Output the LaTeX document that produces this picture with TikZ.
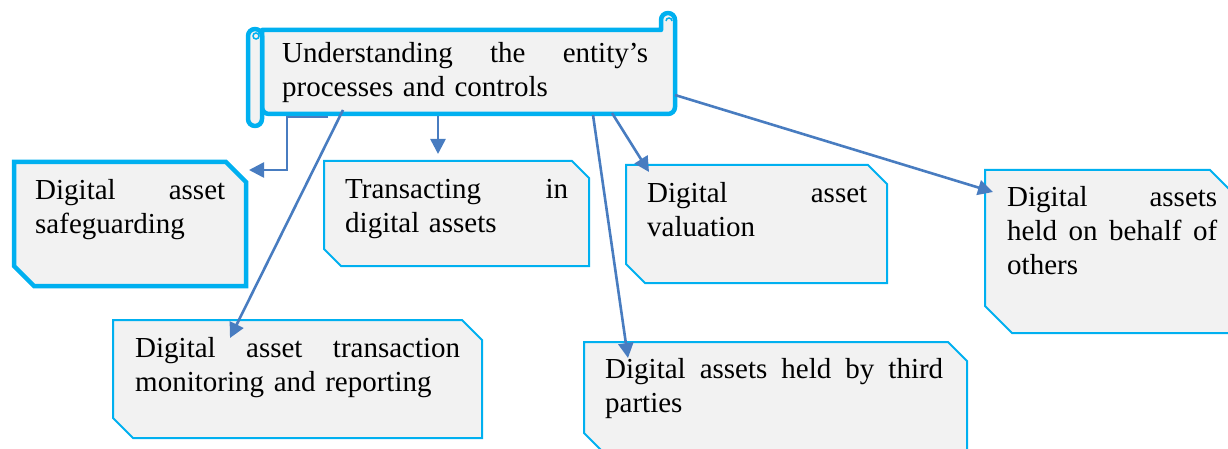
\documentclass[tikz,border=0pt]{standalone}
\usepackage{fontspec}
\setmainfont{Liberation Serif}
\usetikzlibrary{arrows.meta}
\definecolor{cyanb}{RGB}{0,176,240}
\definecolor{boxfill}{RGB}{242,242,242}
\definecolor{connblue}{RGB}{72,124,192}
\newcommand\snipoutline[3]{%
  \filldraw[#3] (#1.north west) -- ([xshift=-#2pt]#1.north east) -- ([yshift=-#2pt]#1.north east)
    -- (#1.south east) -- ([xshift=#2pt]#1.south west) -- ([yshift=#2pt]#1.south west) -- cycle;}
\begin{document}
\begin{tikzpicture}[x=1pt,y=-1pt,
  area/.style={rectangle, inner sep=0pt, outer sep=0pt, anchor=north west},
  thinbox/.style={draw=cyanb, fill=boxfill, line width=2pt, line join=miter},
  thickbox/.style={draw=cyanb, fill=boxfill, line width=4.5pt, line join=miter},
  scrollline/.style={draw=cyanb, fill=boxfill, line width=4.5pt, line join=round},
  curlmark/.style={draw=cyanb, line width=1.5pt},
  txt/.style={anchor=base west, inner sep=0pt, align=left, font=\fontsize{29}{34}\selectfont},
  conn/.style={draw=connblue, line width=2.6pt, -{Triangle[length=15pt,width=15pt]}},
]
\useasboundingbox (0,0) rectangle (1228,449);
\clip (0,0) rectangle (1228,449);

% ---- scroll ----
\node[area, minimum width=413pt, minimum height=84pt] (sc) at (262,30) {};
\filldraw[scrollline] (262,30) -- (661,30) -- (661,20) arc[start angle=180, end angle=0, radius=7pt]
  {[rounded corners=7pt] -- (675,114) -- (262,114)} -- cycle;
\draw[curlmark] (666,21) arc[start angle=180, end angle=0, radius=3pt];
\filldraw[scrollline] (248,36) arc[start angle=180, end angle=0, radius=7pt] -- (262,119)
  arc[start angle=0, end angle=-180, radius=7pt] -- cycle;
\draw[curlmark] (256,36) circle[radius=3pt];
\node[txt, text width=366pt] (sct) at (282,63) {Understanding\hfill the\hfill entity’s\\processes and controls};

% ---- boxes ----
\node[area, minimum width=232pt, minimum height=124pt] (sg) at (14,162) {};
\snipoutline{sg}{20}{thickbox}
\node[txt, text width=190pt] (sgt) at (35,200) {Digital\hfill asset\\safeguarding};

\node[area, minimum width=265pt, minimum height=105pt] (tr) at (324,161) {};
\snipoutline{tr}{17}{thinbox}
\node[txt, text width=223pt] (trt) at (345,198) {Transacting\hfill in\\digital assets};

\node[area, minimum width=261pt, minimum height=118pt] (va) at (626,165) {};
\snipoutline{va}{19}{thinbox}
\node[txt, text width=220pt] (vat) at (647,202) {Digital\hfill asset\\valuation};

\node[area, minimum width=252pt, minimum height=163pt] (rt) at (985,170) {};
\snipoutline{rt}{27}{thinbox}
\node[txt, text width=210pt] (rtt) at (1007,207) {Digital\hfill assets\\held\hfill on\hfill behalf\hfill of\\others};

\node[area, minimum width=369pt, minimum height=118pt] (dm) at (113,320) {};
\snipoutline{dm}{20}{thinbox}
\node[txt, text width=325pt] (dmt) at (135,357) {Digital\hfill asset\hfill transaction\\monitoring and reporting};

\node[area, minimum width=383pt, minimum height=110pt] (tp) at (584,342) {};
\snipoutline{tp}{19}{thinbox}
\node[txt, text width=338pt] (tpt) at (605,378) {Digital\hfill assets\hfill held\hfill by\hfill third\\parties};

% ---- connector ends ----
\coordinate (a1) at (328,117);
\coordinate (elb) at (287,170);
\coordinate (sgin) at (249,170);
\coordinate (a2) at (343,110);
\coordinate (dmin) at (230,338);
\coordinate (a3) at (438,116);
\coordinate (trin) at (438,154);
\coordinate (a4) at (593,115);
\coordinate (tpin) at (628,358);
\coordinate (a5) at (612,113);
\coordinate (vain) at (649,172);
\coordinate (a6) at (675,95);
\coordinate (rtin) at (993,192);

% ---- connectors ----
\draw[conn] (a1) -| (elb) -- (sgin);
\draw[conn] (a2) -- (dmin);
\draw[conn] (a3) -- (trin);
\draw[conn] (a4) -- (tpin);
\draw[conn] (a5) -- (vain);
\draw[conn] (a6) -- (rtin);
\end{tikzpicture}
\end{document}
